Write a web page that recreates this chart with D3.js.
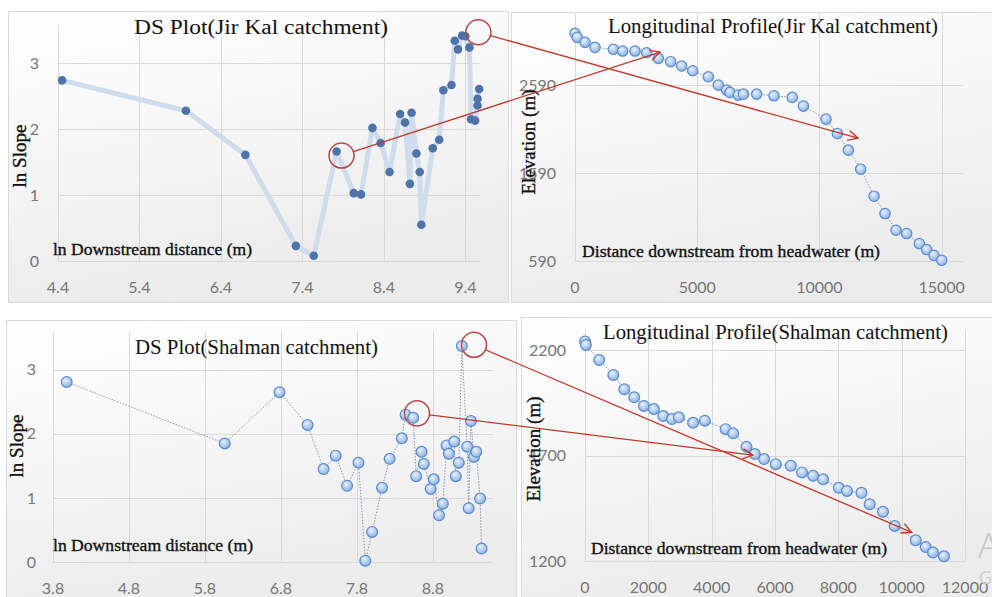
<!DOCTYPE html>
<html>
<head>
<meta charset="utf-8">
<script src="https://cdn.jsdelivr.net/npm/d3@7"></script>
<style>
  body { margin: 0; background: #fff; }
  svg { display: block; }
</style>
</head>
<body>
<svg id="chart" width="992" height="597"></svg>
<script>
// Jir Kal - DS plot
const jkLnDist = [4.45, 5.97, 6.70, 7.32, 7.54, 7.82, 8.03, 8.12, 8.26, 8.36, 8.47, 8.60, 8.66, 8.72, 8.74, 8.80, 8.84, 8.86, 9.00, 9.08, 9.13, 9.23, 9.27, 9.31, 9.36, 9.40, 9.45, 9.47, 9.52, 9.55, 9.55, 9.57];
const jkLnSlope = [2.74, 2.28, 1.61, 0.23, 0.08, 1.66, 1.03, 1.01, 2.02, 1.79, 1.35, 2.23, 2.10, 1.17, 2.25, 1.63, 1.35, 0.55, 1.71, 1.84, 2.59, 2.67, 3.34, 3.21, 3.42, 3.41, 3.24, 2.15, 2.13, 2.36, 2.46, 2.61];

// Jir Kal - longitudinal profile
const jkDist = [0, 95, 410, 820, 1570, 1950, 2455, 2930, 3410, 3915, 4365, 4815, 5455, 5865, 6205, 6340, 6685, 6890, 7435, 8140, 8890, 9345, 10270, 10735, 11185, 11690, 12235, 12685, 13135, 13570, 14090, 14390, 14690, 15005];
const jkElev = [3180, 3134, 3077, 3020, 2998, 2978, 2978, 2959, 2895, 2857, 2808, 2754, 2686, 2591, 2534, 2508, 2477, 2488, 2488, 2469, 2451, 2352, 2204, 2041, 1851, 1634, 1327, 1130, 940, 902, 788, 720, 655, 598];

// Shalman - DS plot
const shLnDist = [3.98, 6.06, 6.78, 7.15, 7.36, 7.52, 7.67, 7.82, 7.91, 8.00, 8.13, 8.23, 8.39, 8.44, 8.54, 8.58, 8.65, 8.68, 8.77, 8.81, 8.88, 8.93, 8.98, 9.01, 9.08, 9.10, 9.14, 9.18, 9.25, 9.27, 9.30, 9.34, 9.37, 9.42, 9.44];
const shLnSlope = [2.81, 1.85, 2.65, 2.14, 1.45, 1.66, 1.19, 1.55, 0.02, 0.47, 1.16, 1.61, 1.93, 2.30, 2.25, 1.34, 1.72, 1.53, 1.14, 1.29, 0.73, 0.91, 1.82, 1.69, 1.88, 1.34, 1.55, 3.37, 1.80, 0.84, 2.20, 1.64, 1.72, 0.99, 0.21];

// Shalman - longitudinal profile
const shDist = [0, 30, 450, 895, 1240, 1555, 1860, 2175, 2470, 2745, 2965, 3415, 3785, 4440, 4680, 5100, 5360, 5655, 6025, 6500, 6855, 7205, 7520, 8015, 8275, 8730, 8990, 9410, 9780, 10445, 10760, 10990, 11335];
const shElev = [2240, 2224, 2153, 2082, 2014, 1976, 1935, 1920, 1887, 1873, 1881, 1855, 1865, 1825, 1805, 1741, 1707, 1683, 1659, 1651, 1620, 1604, 1587, 1547, 1532, 1523, 1469, 1433, 1366, 1298, 1266, 1240, 1222];

// tick labels
const dsTicksJk = [4.4, 5.4, 6.4, 7.4, 8.4, 9.4];
const dsTicksSh = [3.8, 4.8, 5.8, 6.8, 7.8, 8.8];
const slopeTicks = [0, 1, 2, 3];
const lpXTicksJk = [0, 5000, 10000, 15000];
const lpYTicksJk = [590, 1590, 2590];
const lpXTicksSh = [0, 2000, 4000, 6000, 8000, 10000, 12000];
const lpYTicksSh = [1200, 1700, 2200];

// red highlight circles (DS plots) and where the arrows land (profiles)
const jkCircles = [[7.88, 1.60], [9.56, 3.47]];
const jkTargets = [[3480, 2967], [11580, 1987]];
const shCircles = [[9.34, 3.39], [8.59, 2.32]];
const shTargets = [[10315, 1336], [5300, 1702]];

const svg = d3.select("#chart");
const defs = svg.append("defs");

const bgGrad = defs.append("linearGradient").attr("id", "bg").attr("x1", 0).attr("y1", 0).attr("x2", 0.3).attr("y2", 1);
bgGrad.append("stop").attr("offset", "0%").attr("stop-color", "#ffffff");
bgGrad.append("stop").attr("offset", "100%").attr("stop-color", "#ececec");

const dotGrad = defs.append("radialGradient").attr("id", "dot").attr("cx", "40%").attr("cy", "35%").attr("r", "65%");
dotGrad.append("stop").attr("offset", "0%").attr("stop-color", "#e8f0fb");
dotGrad.append("stop").attr("offset", "100%").attr("stop-color", "#8db3e2");

defs.append("marker")
    .attr("id", "arrow")
    .attr("viewBox", "0 0 12 12")
    .attr("refX", 11).attr("refY", 6)
    .attr("markerWidth", 12).attr("markerHeight", 12)
    .attr("markerUnits", "userSpaceOnUse")
    .attr("orient", "auto")
    .append("path")
    .attr("d", "M1,1 L11,6 L1,11")
    .attr("fill", "none")
    .attr("stroke", "#c0392b")
    .attr("stroke-width", 1.4);

const SERIF = "'Liberation Serif', 'Times New Roman', serif";
const SANS = "Lato, 'Liberation Sans', sans-serif";

// frames
const frames = [
    { x: 8, y: 11, w: 500, h: 291 },
    { x: 511, y: 12, w: 490, h: 290 },
    { x: 6, y: 320, w: 510, h: 290 },
    { x: 521, y: 317, w: 480, h: 290 },
];
frames.forEach((f) => {
    svg.append("rect")
        .attr("x", f.x + 0.5).attr("y", f.y + 0.5)
        .attr("width", f.w).attr("height", f.h)
        .attr("fill", "url(#bg)")
        .attr("stroke", "#d9d9d9");
});

function panel(opt) {
    const x = d3.scaleLinear().domain(opt.xDomain).range([opt.left, opt.right]);
    const y = d3.scaleLinear().domain(opt.yDomain).range([opt.bottom, opt.top]);
    const g = svg.append("g");

    // grid
    g.selectAll(".vg").data(opt.xTicks).enter().append("line")
        .attr("x1", (d) => Math.round(x(d)) + 0.5).attr("x2", (d) => Math.round(x(d)) + 0.5)
        .attr("y1", opt.top).attr("y2", opt.bottom)
        .attr("stroke", "#d9d9d9");
    g.selectAll(".hg").data(opt.yTicks).enter().append("line")
        .attr("x1", opt.left).attr("x2", opt.right)
        .attr("y1", (d) => Math.round(y(d)) + 0.5).attr("y2", (d) => Math.round(y(d)) + 0.5)
        .attr("stroke", "#d9d9d9");

    // tick labels
    g.selectAll(".xl").data(opt.xTicks).enter().append("text")
        .attr("x", (d) => x(d)).attr("y", opt.bottom + 26)
        .attr("text-anchor", "middle").attr("dy", "0.35em")
        .attr("font-family", SANS).attr("font-size", "16px").attr("fill", "#767676")
        .text((d) => opt.xFmt(d));
    g.selectAll(".yl").data(opt.yTicks).enter().append("text")
        .attr("x", opt.yLabelX).attr("y", (d) => y(d))
        .attr("text-anchor", "end").attr("dy", "0.35em")
        .attr("font-family", SANS).attr("font-size", "16px").attr("fill", "#767676")
        .text((d) => opt.yFmt(d));

    const pts = opt.xs.map((v, i) => [v, opt.ys[i]]);
    const line = d3.line().x((d) => x(d[0])).y((d) => y(d[1]));

    if (opt.thick) {
        g.append("path").datum(pts).attr("d", line)
            .attr("fill", "none").attr("stroke", "#cfdcec")
            .attr("stroke-width", 5).attr("stroke-linejoin", "round");
        g.selectAll(".pt").data(pts).enter().append("circle")
            .attr("cx", (d) => x(d[0])).attr("cy", (d) => y(d[1]))
            .attr("r", 4.3).attr("fill", "#4e73a8");
    } else {
        g.append("path").datum(pts).attr("d", line)
            .attr("fill", "none").attr("stroke", "#8497b0")
            .attr("stroke-width", 1).attr("stroke-dasharray", "1.5,1.5");
        g.selectAll(".pt").data(pts).enter().append("circle")
            .attr("cx", (d) => x(d[0])).attr("cy", (d) => y(d[1]))
            .attr("r", opt.r).attr("fill", "url(#dot)")
            .attr("stroke", "#5b8bd0").attr("stroke-width", 1.2);
    }

    // titles
    g.append("text")
        .attr("x", opt.title.x).attr("y", opt.title.y).attr("dy", "0.35em")
        .attr("font-family", SERIF).attr("font-size", "20px").attr("fill", "#111")
        .attr("textLength", opt.title.len).attr("lengthAdjust", "spacingAndGlyphs")
        .text(opt.title.text);
    g.append("text")
        .attr("x", opt.xTitle.x).attr("y", opt.xTitle.y).attr("dy", "0.35em")
        .attr("font-family", SERIF).attr("font-size", "17px").attr("fill", "#111")
        .attr("stroke", "#111").attr("stroke-width", 0.35)
        .attr("textLength", opt.xTitle.len).attr("lengthAdjust", "spacingAndGlyphs")
        .text(opt.xTitle.text);
    g.append("text")
        .attr("transform", `translate(${opt.yTitle.x},${opt.yTitle.y}) rotate(-90)`)
        .attr("text-anchor", "middle").attr("dy", "0.35em")
        .attr("font-family", SERIF).attr("font-size", opt.yTitle.size).attr("fill", "#111")
        .attr("stroke", "#111").attr("stroke-width", 0.35)
        .text(opt.yTitle.text);

    return { x, y };
}

const fmt1 = (d) => d.toFixed(1);
const fmt0 = (d) => String(d);

const p1 = panel({
    xs: jkLnDist, ys: jkLnSlope, thick: true,
    xDomain: [4.4, 9.58], yDomain: [0, 3.58],
    left: 58, right: 480, top: 25, bottom: 261,
    xTicks: dsTicksJk, yTicks: slopeTicks, xFmt: fmt1, yFmt: fmt0, yLabelX: 39,
    title: { text: "DS Plot(Jir Kal catchment)", x: 134, y: 27, len: 254 },
    xTitle: { text: "ln Downstream distance (m)", x: 53, y: 249, len: 199 },
    yTitle: { text: "ln Slope", x: 19, y: 156, size: "19px" },
});

const p2 = panel({
    xs: jkDist, ys: jkElev, r: 5.2,
    xDomain: [0, 15875], yDomain: [590, 3411],
    left: 575, right: 963, top: 13, bottom: 261,
    xTicks: lpXTicksJk, yTicks: lpYTicksJk, xFmt: fmt0, yFmt: fmt0, yLabelX: 556,
    title: { text: "Longitudinal Profile(Jir Kal catchment)", x: 608, y: 26, len: 330 },
    xTitle: { text: "Distance downstream from headwater (m)", x: 582, y: 251, len: 298 },
    yTitle: { text: "Elevation (m)", x: 528, y: 142, size: "19px" },
});

const p3 = panel({
    xs: shLnDist, ys: shLnSlope, r: 5.4,
    xDomain: [3.8, 9.59], yDomain: [0, 3.59],
    left: 53, right: 493, top: 332, bottom: 562,
    xTicks: dsTicksSh, yTicks: slopeTicks, xFmt: fmt1, yFmt: fmt0, yLabelX: 36,
    title: { text: "DS Plot(Shalman catchment)", x: 135, y: 347, len: 243 },
    xTitle: { text: "ln Downstream distance (m)", x: 53, y: 545, len: 200 },
    yTitle: { text: "ln Slope", x: 16, y: 446, size: "19px" },
});

const p4 = panel({
    xs: shDist, ys: shElev, r: 5.4,
    xDomain: [0, 12000], yDomain: [1200, 2295],
    left: 585, right: 965, top: 330, bottom: 561,
    xTicks: lpXTicksSh, yTicks: lpYTicksSh, xFmt: fmt0, yFmt: fmt0, yLabelX: 566,
    title: { text: "Longitudinal Profile(Shalman catchment)", x: 603, y: 332, len: 345 },
    xTitle: { text: "Distance downstream from headwater (m)", x: 591, y: 548, len: 296 },
    yTitle: { text: "Elevation (m)", x: 533, y: 449, size: "19px" },
});

// red annotations: circle on the DS plot, arrow to the profile
function annotate(src, dst, circles, targets) {
    circles.forEach((c, i) => {
        const cx = src.x(c[0]), cy = src.y(c[1]);
        const tx = dst.x(targets[i][0]), ty = dst.y(targets[i][1]);
        const r = 12.5;
        const len = Math.hypot(tx - cx, ty - cy);
        const ux = (tx - cx) / len, uy = (ty - cy) / len;
        svg.append("circle")
            .attr("cx", cx).attr("cy", cy).attr("r", r)
            .attr("fill", "none").attr("stroke", "#b9474a").attr("stroke-width", 1.5);
        svg.append("line")
            .attr("x1", cx + ux * r).attr("y1", cy + uy * r)
            .attr("x2", tx).attr("y2", ty)
            .attr("stroke", "#c0392b").attr("stroke-width", 1.3)
            .attr("marker-end", "url(#arrow)");
    });
}
annotate(p1, p2, jkCircles, jkTargets);
annotate(p3, p4, shCircles, shTargets);

// faint watermark at right edge
svg.append("text").attr("x", 978).attr("y", 558)
    .attr("font-family", "'Open Sans', sans-serif").attr("font-weight", 300)
    .attr("font-size", "35px").attr("fill", "#c4c4c4").text("Activate Windows");
svg.append("text").attr("x", 979).attr("y", 584)
    .attr("font-family", "'Open Sans', sans-serif")
    .attr("font-size", "18px").attr("fill", "#cfcfcf").text("Go to Settings");
</script>
</body>
</html>
